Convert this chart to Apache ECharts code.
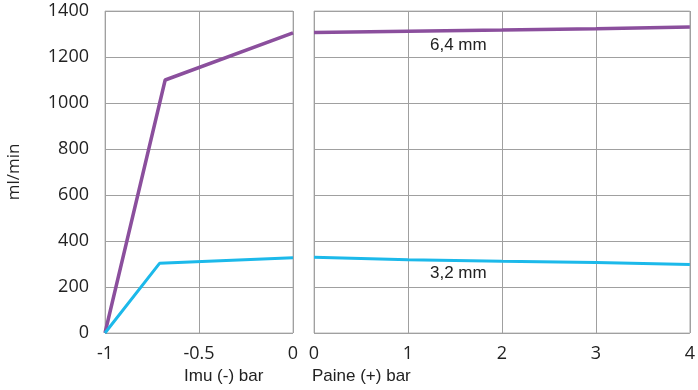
<!DOCTYPE html>
<html>
<head>
<meta charset="utf-8">
<script src="https://cdn.jsdelivr.net/npm/echarts@6/dist/echarts.min.js"></script>
<style>
  html, body { margin: 0; padding: 0; background: #fff; }
  #chart { width: 698px; height: 390px; }
</style>
</head>
<body>
<div id="chart"></div>
<script>
  // vacuum side (bar, negative)
  var vacX = [-1, -0.68, 0];
  var vacBig = [0, 1100, 1305];
  var vacXSmall = [-1, -0.71, 0];
  var vacSmall = [0, 303, 327];
  // pressure side (bar, positive)
  var presX = [0, 1, 2, 3, 4];
  var presBig = [1306, 1312, 1317, 1323, 1330];
  var presSmall = [329, 319, 312, 306, 298];

  var purple = '#8b4f9d';
  var blue = '#1cb9ea';
  var gridCol = '#a0a0a0';
  var tickFont = '"Open Sans", sans-serif';
  var labelFont = '"Liberation Sans", Arial, sans-serif';

  function pairs(xs, ys) {
    var out = [];
    for (var i = 0; i < xs.length; i++) out.push([xs[i], ys[i]]);
    return out;
  }

  var chart = echarts.init(document.getElementById('chart'));
  var option = {
    animation: false,
    grid: [
      {left: 105, right: 405, top: 11, bottom: 57, show: true, borderColor: '#bbb', borderWidth: 1},
      {left: 314, right: 8, top: 11, bottom: 57, show: true, borderColor: '#bbb', borderWidth: 1}
    ],
    xAxis: [
      {
        type: 'value', gridIndex: 0, min: -1, max: 0, interval: 0.5,
        axisLine: {show: false}, axisTick: {show: false},
        splitLine: {lineStyle: {color: gridCol}},
        axisLabel: {color: '#222', fontSize: 18, fontFamily: tickFont, margin: 12, showMinLabel: true, showMaxLabel: true,
          formatter: function (v) { return String(v); }}
      },
      {
        type: 'value', gridIndex: 1, min: 0, max: 4, interval: 1,
        axisLine: {show: false}, axisTick: {show: false},
        splitLine: {lineStyle: {color: gridCol}},
        axisLabel: {color: '#222', fontSize: 18, fontFamily: tickFont, margin: 12, showMinLabel: true, showMaxLabel: true,
          formatter: function (v) { return String(v); }}
      }
    ],
    yAxis: [
      {
        type: 'value', gridIndex: 0, min: 0, max: 1400, interval: 200,
        axisLine: {show: false}, axisTick: {show: false},
        splitLine: {lineStyle: {color: gridCol}},
        axisLabel: {color: '#222', fontSize: 18, fontFamily: tickFont, margin: 16,
          formatter: function (v) { return String(v); }},
        name: 'ml/min', nameLocation: 'middle', nameGap: 82,
        nameTextStyle: {color: '#222', fontSize: 17, fontFamily: tickFont}
      },
      {
        type: 'value', gridIndex: 1, min: 0, max: 1400, interval: 200,
        axisLine: {show: false}, axisTick: {show: false},
        splitLine: {lineStyle: {color: gridCol}},
        axisLabel: {show: false}
      }
    ],
    series: [
      {type: 'line', xAxisIndex: 0, yAxisIndex: 0, data: pairs(vacX, vacBig), symbol: 'none',
        lineStyle: {color: purple, width: 3.5}},
      {type: 'line', xAxisIndex: 0, yAxisIndex: 0, data: pairs(vacXSmall, vacSmall), symbol: 'none',
        lineStyle: {color: blue, width: 3}},
      {type: 'line', xAxisIndex: 1, yAxisIndex: 1, data: pairs(presX, presBig), symbol: 'none',
        lineStyle: {color: purple, width: 3.5}},
      {type: 'line', xAxisIndex: 1, yAxisIndex: 1, data: pairs(presX, presSmall), symbol: 'none',
        lineStyle: {color: blue, width: 3}}
    ],
    graphic: [
      {type: 'text', left: 184, top: 368, style: {text: 'Imu (-) bar', fill: '#222', font: '17px ' + labelFont}},
      {type: 'text', left: 312, top: 368, style: {text: 'Paine (+) bar', fill: '#222', font: '17px ' + labelFont}},
      {type: 'text', left: 430, top: 37, style: {text: '6,4 mm', fill: '#222', font: '17px ' + labelFont}},
      {type: 'text', left: 430, top: 265, style: {text: '3,2 mm', fill: '#222', font: '17px ' + labelFont}}
    ]
  };
  chart.setOption(option);
</script>
</body>
</html>
